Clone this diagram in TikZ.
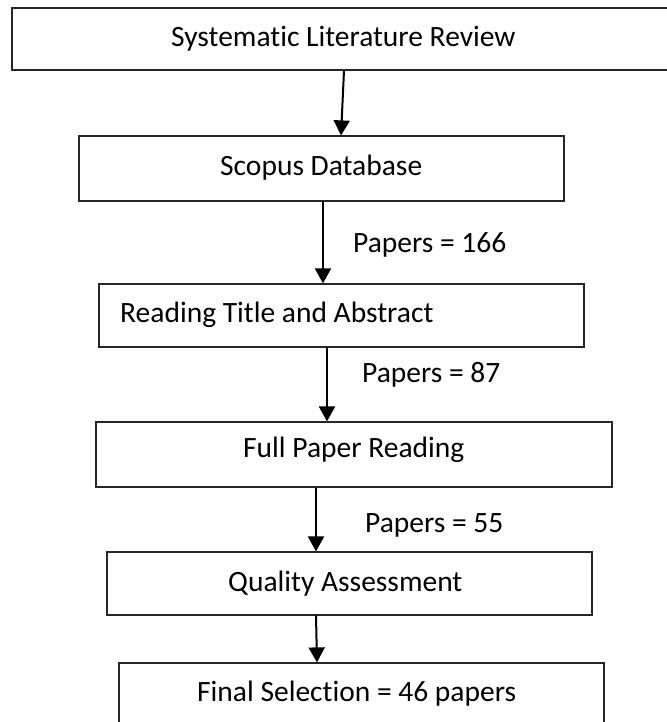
\documentclass[tikz,border=0pt]{standalone}
\usepackage{fontspec}
\setmainfont[Ligatures=CommonOff]{Carlito}
\usetikzlibrary{arrows.meta}

\tikzset{
  box/.style={draw=black!85, line width=1.2bp, rectangle, inner sep=0pt},
  txt/.style={inner sep=0pt, anchor=base west, font=\fontsize{29.5bp}{35bp}\selectfont},
  arr/.style={line width=2bp, -{Triangle[width=16bp,length=15bp]}}
}

\begin{document}
\begin{tikzpicture}[x=1bp,y=-1bp]

      \useasboundingbox (0,0) rectangle (667,722);

      % boxes
      \node[box, minimum width=668bp, minimum height=62bp] (b1) at (346,39) {};
      \node[box, minimum width=485bp, minimum height=65bp] (b2) at (321.5,168.5) {};
      \node[box, minimum width=485bp, minimum height=63bp] (b3) at (341.5,315.5) {};
      \node[box, minimum width=516bp, minimum height=65bp] (b4) at (354,454.5) {};
      \node[box, minimum width=485bp, minimum height=63bp] (b5) at (349.5,583.5) {};
      \node[box, minimum width=485bp, minimum height=72bp] (b6) at (361.5,699) {};

      % texts
      \node[txt] (t1) at (171,46.5) {Systematic Literature Review};
      \node[txt] (t2) at (220,175) {Scopus Database};
      \node[txt] (t3) at (120,322) {Reading Title and Abstract};
      \node[txt] (t4) at (243,457) {Full Paper Reading};
      \node[txt] (t5) at (228,591) {Quality Assessment};
      \node[txt] (t6) at (197,701) {Final Selection = 46 papers};

      \foreach \n/\x/\y in {166/353/252, 87/362/382, 55/365/532}
        \node[txt] (p\n) at (\x,\y) {Papers = \n};

      % arrows
      \draw[arr] (344,0 |- b1.south) -- (341,0 |- b2.north);
      \draw[arr] (323,0 |- b2.south) -- (323,0 |- b3.north);
      \draw[arr] (327,0 |- b3.south) -- (327,0 |- b4.north);
      \draw[arr] (316,0 |- b4.south) -- (316,0 |- b5.north);
      \draw[arr] (316,0 |- b5.south) -- (317,0 |- b6.north);
    \end{tikzpicture}
\end{document}
